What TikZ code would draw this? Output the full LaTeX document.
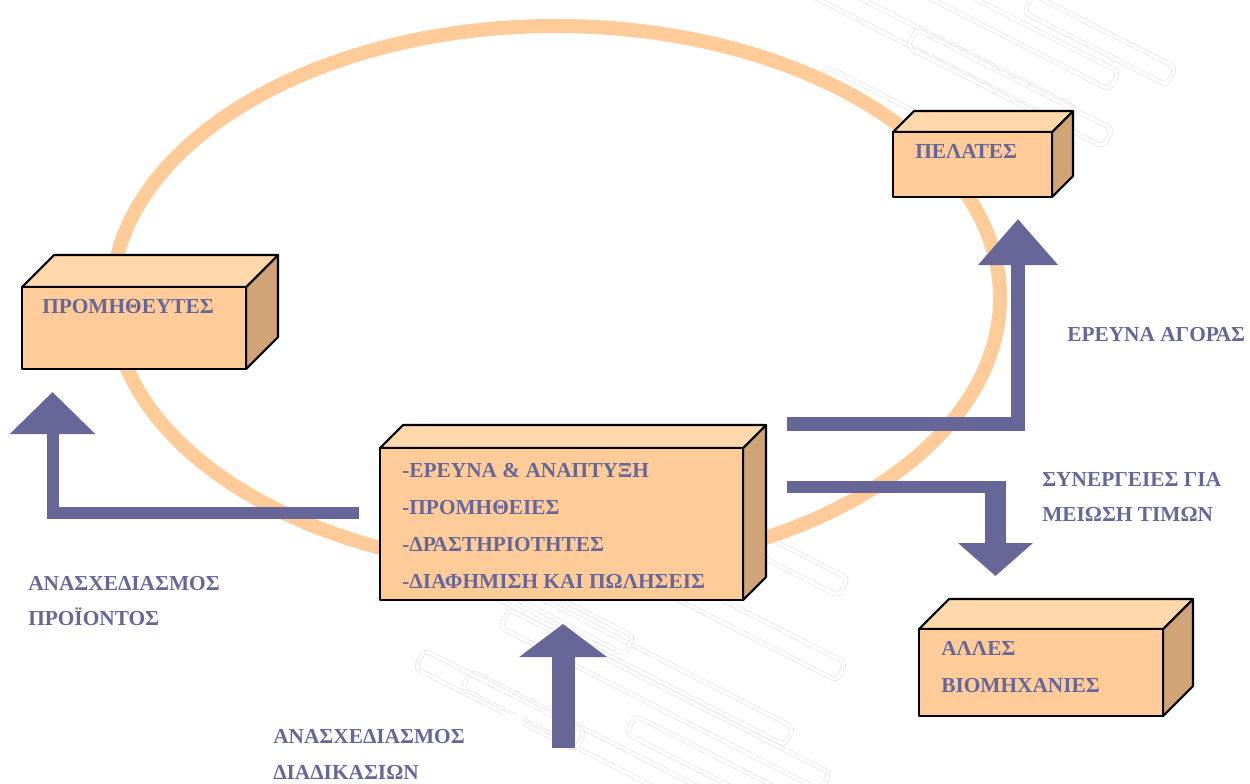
\documentclass[tikz,border=0pt]{standalone}
\usepackage{fontspec}
\setmainfont{Liberation Serif}
\usetikzlibrary{arrows.meta}

\definecolor{ringcol}{HTML}{FFCC99}
\definecolor{frontcol}{HTML}{FFCC99}
\definecolor{topcol}{HTML}{FFD8AB}
\definecolor{sidecol}{HTML}{D0A477}
\definecolor{inkcol}{HTML}{666699}

\tikzset{
  ring/.style={draw=ringcol, line width=10.5pt, fill=white},
  boxline/.style={line width=1.6pt, line join=round},
  frontface/.style={draw=black, boxline, fill=frontcol, inner sep=0pt, outer sep=0pt},
  label/.style={inner sep=0pt, anchor=base west, text=inkcol,
                font=\bfseries\fontsize{16}{18}\selectfont},
  flow/.style={draw=inkcol, line join=miter, line cap=butt},
  wm/.style={draw=gray!22, line width=0.5pt, double=white, double distance=2.4pt},
}

% 3D box: name, left x, top y, width, height, depth
\newcommand\cuboid[6]{%
  \filldraw[fill=sidecol, draw=black, boxline]
    (#2+#4,#3) -- ++(#6,-#6) -- ++(0,#5) -- ++(-#6,#6) -- cycle;
  \filldraw[fill=topcol, draw=black, boxline]
    (#2,#3) -- ++(#6,-#6) -- ++(#4,0) -- ++(-#6,#6) -- cycle;
  \node[frontface, anchor=north west, minimum width=#4*0.75pt,
        minimum height=#5*0.75pt] (#1) at (#2,#3) {};
}

\begin{document}
\begin{tikzpicture}[x=0.75pt, y=-0.75pt]
\useasboundingbox (0,0) rectangle (1250,783);
\fill[white] (0,0) rectangle (1250,783);

% faint stamp in the background
\foreach \cx/\cy/\L in {
    930/45/320, 985/15/290, 1010/88/220, 1100/40/160, 880/105/130,
    620/650/380, 665/700/360, 600/748/300, 730/615/250, 540/600/200,
    790/560/120, 500/700/180, 720/770/200}
  \draw[wm, rotate around={-27:(\cx,\cy)}, rounded corners=4pt]
    (\cx-\L/2,\cy-10) rectangle (\cx+\L/2,\cy+10);
\fill[white] (253,715) rectangle (522,783);

% the cycle ring
\draw[ring] (556,298) ellipse [x radius=444, y radius=272];

% boxes
\cuboid{pel}{893}{132}{159}{65}{21}
\cuboid{pro}{22}{287}{224}{82}{32}
\cuboid{ctr}{380}{448}{363}{152}{23}
\cuboid{bio}{919}{629}{244}{87}{30}

% box texts
\node[label] (tpel) at (915,158) {ΠΕΛΑΤΕΣ};
\node[label] (tpro) at (42,313) {ΠΡΟΜΗΘΕΥΤΕΣ};
\node[label] (tc1) at (402,477) {-ΕΡΕΥΝΑ \& ΑΝΑΠΤΥΞΗ};
\node[label] (tc2) at (402,514) {-ΠΡΟΜΗΘΕΙΕΣ};
\node[label] (tc3) at (402,551) {-ΔΡΑΣΤΗΡΙΟΤΗΤΕΣ};
\node[label] (tc4) at (402,588) {-ΔΙΑΦΗΜΙΣΗ ΚΑΙ ΠΩΛΗΣΕΙΣ};
\node[label] (tb1) at (941,655) {ΑΛΛΕΣ};
\node[label] (tb2) at (941,692) {ΒΙΟΜΗΧΑΝΙΕΣ};

% arrow labels
\node[label] (lp1) at (28,590) {ΑΝΑΣΧΕΔΙΑΣΜΟΣ};
\node[label] (lp2) at (28,625) {ΠΡΟΪΟΝΤΟΣ};
\node[label] (lm)  at (1067,341) {ΕΡΕΥΝΑ ΑΓΟΡΑΣ};
\node[label] (ls1) at (1042,486) {ΣΥΝΕΡΓΕΙΕΣ ΓΙΑ};
\node[label] (ls2) at (1042,521.5) {ΜΕΙΩΣΗ ΤΙΜΩΝ};
\node[label] (ld1) at (273,743) {ΑΝΑΣΧΕΔΙΑΣΜΟΣ};
\node[label] (ld2) at (273,779) {ΔΙΑΔΙΚΑΣΙΩΝ};

% arrow end points
\coordinate (aLs) at (359,512.5);
\coordinate (aLe) at (52.5,392);
\coordinate (aMs) at (787,424);
\coordinate (aMe) at (1018,219);
\coordinate (aSs) at (787,487);
\coordinate (aSk) at (1006,487);
\coordinate (aSt) at (995.5,481);
\coordinate (aSe) at (995.5,576);
\coordinate (aDs) at (563,748);
\coordinate (aDe) at (563,624);

% block arrows
\draw[flow, line width=9pt, -{Triangle[width=62.25pt, length=31.5pt]}] (aLs) -| (aLe);
\draw[flow, line width=10.5pt, -{Triangle[width=57.75pt, length=34.5pt]}] (aMs) -| (aMe);
\draw[flow, line width=9pt] (aSs) -- (aSk);
\draw[flow, line width=15.75pt, -{Triangle[width=54.75pt, length=24.75pt]}] (aSt) -- (aSe);
\draw[flow, line width=17.25pt, -{Triangle[width=64.5pt, length=24.75pt]}] (aDs) -- (aDe);
\end{tikzpicture}
\end{document}
